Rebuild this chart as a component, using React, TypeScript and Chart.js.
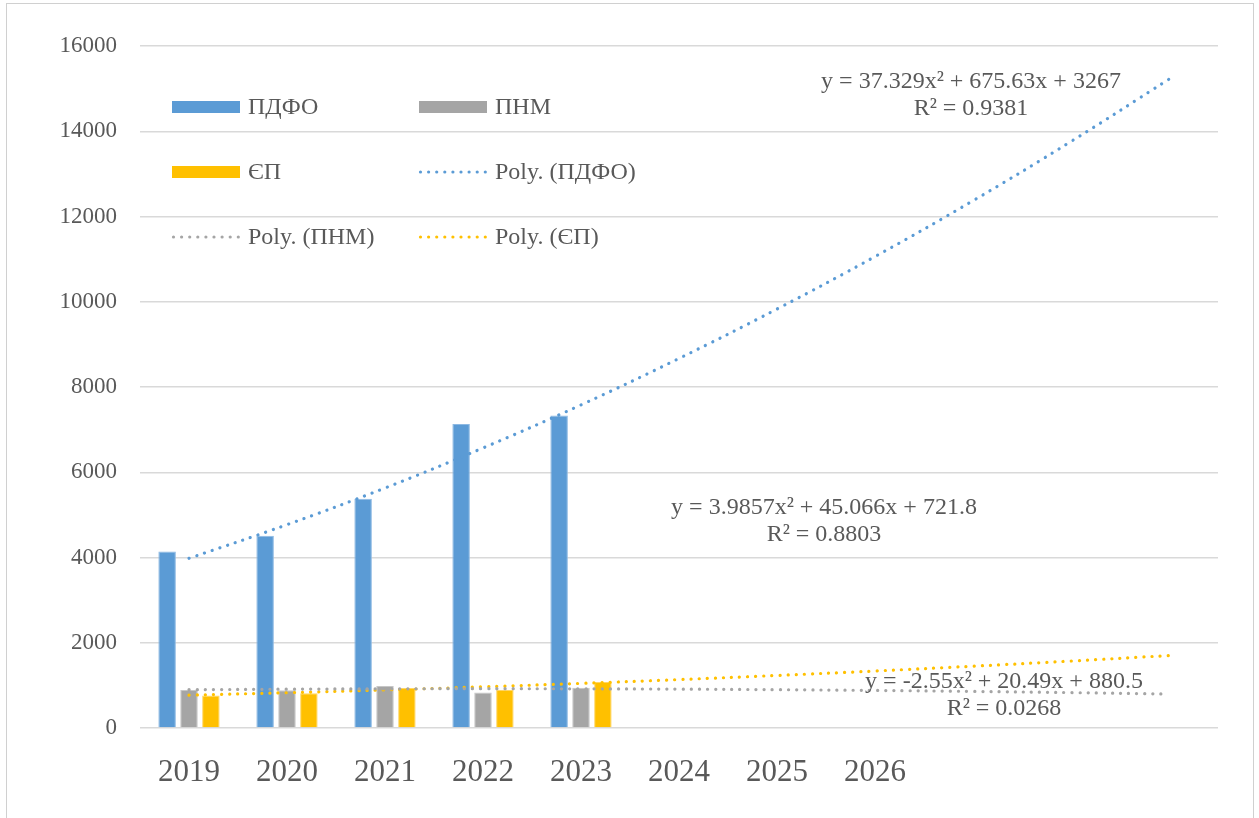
import React, { useEffect, useRef } from "react";
import { Chart, registerables } from "chart.js";

Chart.register(...registerables);

const categories = ["2019", "2020", "2021", "2022", "2023", "2024", "2025", "2026", "", "", ""];
const pdfoValues = [4140, 4510, 5380, 7130, 7330];
const pnmValues = [890, 885, 985, 835, 945];
const epValues = [765, 815, 940, 890, 1080];
// trendline points (one per category)
const pdfoTrend = [3980, 4770, 5630, 6570, 7580, 8670, 9830, 11060, 12370, 13760, 15220];
const pnmTrend = [898, 911, 919, 922, 919, 912, 899, 881, 858, 830, 797];
const epTrend = [771, 828, 893, 966, 1047, 1136, 1233, 1337, 1450, 1571, 1700];
const yTicks = [0, 2000, 4000, 6000, 8000, 10000, 12000, 14000, 16000];

const BLUE = "#5B9BD5";
const GRAY = "#A5A5A5";
const GOLD = "#FFC000";
const TEXT = "#595959";
const GRID = "#D9D9D9";
const FONT = "'Liberation Serif', 'Times New Roman', serif";

const annotations = [
  { lines: ["y = 37.329x² + 675.63x + 3267", "R² = 0.9381"], x: 971, y: 82 },
  { lines: ["y = 3.9857x² + 45.066x + 721.8", "R² = 0.8803"], x: 824, y: 508 },
  { lines: ["y = -2.55x² + 20.49x + 880.5", "R² = 0.0268"], x: 1004, y: 682 },
];

const legendItems = [
  { label: "ПДФО", color: BLUE, kind: "box", x: 172, y: 107 },
  { label: "ПНМ", color: GRAY, kind: "box", x: 419, y: 107 },
  { label: "ЄП", color: GOLD, kind: "box", x: 172, y: 172 },
  { label: "Poly. (ПДФО)", color: BLUE, kind: "dots", x: 419, y: 172 },
  { label: "Poly. (ПНМ)", color: GRAY, kind: "dots", x: 172, y: 237 },
  { label: "Poly. (ЄП)", color: GOLD, kind: "dots", x: 419, y: 237 },
];

const overlayPlugin = {
  id: "overlay",
  afterDraw(chart: any) {
    const ctx = chart.ctx as CanvasRenderingContext2D;
    ctx.save();
    // legend
    ctx.font = `24px ${FONT}`;
    ctx.textBaseline = "middle";
    ctx.textAlign = "left";
    for (const it of legendItems) {
      if (it.kind === "box") {
        ctx.fillStyle = it.color;
        ctx.fillRect(it.x, it.y - 6, 68, 12);
      } else {
        ctx.fillStyle = it.color;
        for (let k = 0; k < 9; k++) {
          ctx.beginPath();
          ctx.arc(it.x + 1.5 + k * 8.1, it.y, 1.6, 0, Math.PI * 2);
          ctx.fill();
        }
      }
      ctx.fillStyle = TEXT;
      ctx.fillText(it.label, it.x + 76, it.y + 1);
    }
    // trendline equations
    ctx.textAlign = "center";
    for (const a of annotations) {
      a.lines.forEach((l, i) => {
        ctx.fillText(l, a.x, a.y + i * 27);
      });
    }
    ctx.restore();
  },
};

export default function App() {
  const ref = useRef<HTMLCanvasElement>(null);
  useEffect(() => {
    const canvas = ref.current!;
    const dotted = (color: string, data: number[], label: string) => ({
      type: "line" as const,
      label,
      data,
      borderColor: color,
      backgroundColor: color,
      borderWidth: 3.2,
      borderDash: [0.1, 8],
      borderCapStyle: "round" as const,
      pointRadius: 0,
      tension: 0.4,
      fill: false,
      order: 0,
    });
    const chart = new Chart(canvas, {
      type: "bar",
      data: {
        labels: categories,
        datasets: [
          { label: "ПДФО", data: pdfoValues, backgroundColor: BLUE, borderColor: "#8DB9E3", borderWidth: 1, order: 1 },
          { label: "ПНМ", data: pnmValues, backgroundColor: GRAY, borderColor: "#C6C6C6", borderWidth: 1, order: 1 },
          { label: "ЄП", data: epValues, backgroundColor: GOLD, borderColor: "#FFD666", borderWidth: 1, order: 1 },
          dotted(BLUE, pdfoTrend, "Poly. (ПДФО)"),
          dotted(GRAY, pnmTrend, "Poly. (ПНМ)"),
          dotted(GOLD, epTrend, "Poly. (ЄП)"),
        ] as any,
      },
      options: {
        responsive: false,
        animation: false,
        layout: { padding: { left: 0, right: 41, top: 46, bottom: 0 } },
        datasets: { bar: { categoryPercentage: 0.67, barPercentage: 0.8 } },
        plugins: { legend: { display: false }, tooltip: { enabled: false } },
        scales: {
          x: {
            grid: { display: false },
            border: { display: false },
            ticks: {
              color: TEXT,
              font: { family: FONT, size: 31 },
              padding: 18,
              maxRotation: 0,
              autoSkip: false,
            },
            afterFit: (s: any) => {
              s.height = 90;
            },
          },
          y: {
            min: 0,
            max: 16000,
            afterBuildTicks: (s: any) => {
              s.ticks = yTicks.map((v) => ({ value: v }));
            },
            grid: { color: GRID, lineWidth: 1.5, drawTicks: false },
            border: { display: false },
            ticks: {
              color: TEXT,
              font: { family: FONT, size: 23 },
              padding: 23,
              callback: (v: any) => String(v),
            },
            afterFit: (s: any) => {
              s.width = 140;
            },
          },
        },
      },
      plugins: [overlayPlugin],
    });
    return () => chart.destroy();
  }, []);
  return (
    <div style={{ position: "fixed", left: 0, top: 0, width: 1259, height: 818, overflow: "hidden", background: "#fff" }}>
      <div
        style={{
          position: "absolute",
          left: 6,
          top: 3,
          width: 1248,
          height: 840,
          border: "1.5px solid #D0D0D0",
          boxSizing: "border-box",
        }}
      />
      <canvas ref={ref} width={1259} height={818} style={{ position: "absolute", left: 0, top: 0 }} />
    </div>
  );
}
